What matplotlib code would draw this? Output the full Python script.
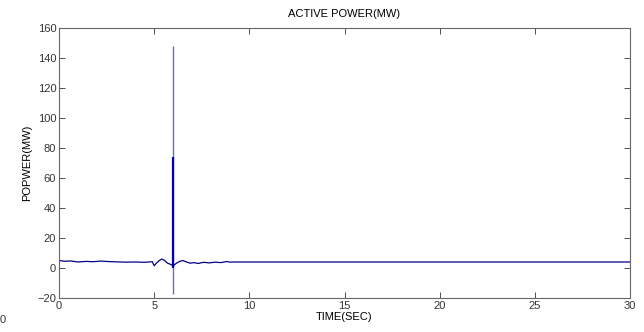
import matplotlib.pyplot as plt
import numpy as np

plt.rcParams['font.family'] = ['Liberation Sans', 'DejaVu Sans']

# Gegevens
tijd = [0, 0.3, 0.6, 1.0, 1.4, 1.8, 2.2, 2.6, 3.0, 3.5, 4.0, 4.5, 4.9, 5.0, 5.1, 5.25, 5.4, 5.55,
        5.7, 5.85, 5.95, 6.0, 6.05, 6.15, 6.3, 6.5, 6.7, 6.9, 7.1, 7.3, 7.6, 7.9,
        8.2, 8.5, 8.8, 9.0, 9.2, 10, 15, 20, 25, 30]
vermogen = [5.0, 4.5, 4.7, 4.0, 4.4, 4.2, 4.6, 4.3, 4.1, 3.9, 4.0, 3.8, 4.2, 1.5, 3.0, 4.8, 6.0, 5.0,
            3.2, 2.5, 1.8, 1.5, 2.0, 3.0, 4.2, 5.0, 4.0, 3.2, 3.6, 3.0, 3.8, 3.4,
            3.9, 3.6, 4.3, 3.9, 4.0, 4.0, 4.0, 4.0, 4.0, 4.0]

# Piek bij de fout
piek_tijd = 6.0
piek_max = 148
piek_min = -17
piek_dicht = 74  # tot hier is de piek donker (dichte oscillatie)

x_ticks = [0, 5, 10, 15, 20, 25, 30]
y_ticks = [-20, 0, 20, 40, 60, 80, 100, 120, 140, 160]

fig = plt.figure(figsize=(6.44, 3.32), dpi=100)
ax = fig.add_axes([59 / 644, 1 - 298 / 332, 571 / 644, 270 / 332])
ax.vlines(piek_tijd, piek_min, piek_max, color='#7070a8', linewidth=1.0)
ax.vlines(piek_tijd, 0, piek_dicht, color='#0000b0', linewidth=1.6)
ax.plot(tijd, vermogen, color='#00008b', linewidth=0.9)

ax.set_xlim(0, 30)
ax.set_ylim(-20, 160)
ax.set_xticks(x_ticks)
ax.set_yticks(y_ticks)
ax.tick_params(direction='in', top=True, right=True, labelsize=8, length=4, width=0.6,
               colors='#333333', pad=2)
for s in ax.spines.values():
    s.set_color('#666666')
    s.set_linewidth(0.8)

ax.set_title('ACTIVE POWER(MW)', fontsize=8, pad=8)
ax.set_xlabel('TIME(SEC)', fontsize=8, labelpad=1)
ax.set_ylabel('POPWER(MW)', fontsize=8, labelpad=4)

# rest van een buurfiguur links onderaan
fig.text(0.0, 1 - 320 / 332, '0', fontsize=8, va='center', color='#333333')

plt.savefig('out.png', dpi=100)
